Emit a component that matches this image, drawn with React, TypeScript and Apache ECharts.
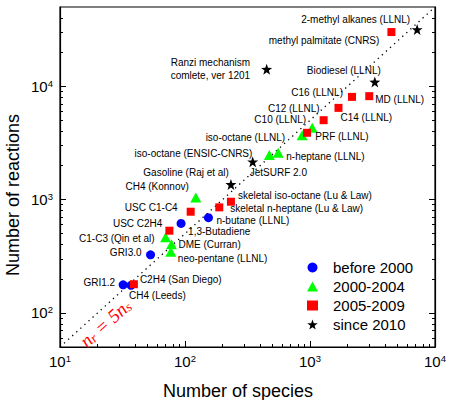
import React, { useEffect, useRef } from 'react';
import * as echarts from 'echarts';

// Mechanism sizes: number of species vs number of reactions, grouped by year
const before2000Names = ['GRI1.2', 'CH4 (Leeds)', 'GRI3.0', '1,3-Butadiene', 'n-butane (LLNL)'];
const before2000Species = [32, 37, 53, 93, 154];
const before2000Reactions = [177, 175, 325, 615, 692];

const y2000to2004Names = [
  'C1-C3 (Qin et al)', 'DME (Curran)', 'neo-pentane (LLNL)', 'CH4 (Konnov)',
  'iso-octane (ENSIC-CNRS)', 'n-heptane (LLNL)', 'iso-octane (LLNL)', 'PRF (LLNL)',
];
const y2000to2004Species = [70, 78, 77, 122, 473, 557, 865, 1042];
const y2000to2004Reactions = [464, 403, 347, 1040, 2466, 2582, 3700, 4295];

const y2005to2009Names = [
  'C2H4 (San Diego)', 'USC C2H4', 'USC C1-C4', 'skeletal n-heptane (Lu & Law)',
  'skeletal iso-octane (Lu & Law)', 'C10 (LLNL)', 'C12 (LLNL)', 'C14 (LLNL)',
  'C16 (LLNL)', 'MD (LLNL)', 'methyl palmitate (CNRS)',
];
const y2005to2009Species = [39, 75, 111, 188, 233, 947, 1285, 1690, 2167, 2978, 4477];
const y2005to2009Reactions = [179, 531, 781, 853, 957, 3883, 5013, 6440, 8050, 8170, 30060];

const since2010Names = [
  'Gasoline (Raj et al)', 'JetSURF 2.0', 'Ranzi mechanism\ncomlete, ver 1201',
  'Biodiesel (LLNL)', '2-methyl alkanes (LLNL)',
];
const since2010Species = [233, 348, 450, 3299, 7195];
const since2010Reactions = [1361, 2154, 14130, 10910, 31640];

const legendNames = ['before 2000', '2000-2004', '2005-2009', 'since 2010'];

// Axes
const speciesRange = [10, 10000];
const reactionsRange = [50, 50000];
const xMajorTicks = [10, 100, 1000, 10000];
const yMajorTicks = [100, 1000, 10000];
const reactionsPerSpecies = 5;

// 2..9 times every decade inside [lo, hi]
function minorTicks(lo: number, hi: number): number[] {
  const out: number[] = [];
  for (let d = 1; d <= 1e5; d *= 10) {
    for (let k = 2; k <= 9; k++) {
      const v = k * d;
      if (v > lo && v < hi) out.push(v);
    }
  }
  return out;
}

// Label anchor relative to each marker: [text alignment, dx, dy]
const labelPlacement: Record<string, ['left' | 'right', number, number]> = {
  'GRI1.2': ['right', -8, -2],
  'CH4 (Leeds)': ['left', -2, 10],
  'C2H4 (San Diego)': ['left', 6, -5],
  'GRI3.0': ['right', -9, -2],
  'neo-pentane (LLNL)': ['left', 7, 7],
  'DME (Curran)': ['left', 7, 0],
  'C1-C3 (Qin et al)': ['right', -11, 1],
  'USC C2H4': ['right', -7, -7],
  '1,3-Butadiene': ['left', 7, 8],
  'USC C1-C4': ['right', -13, -4],
  'n-butane (LLNL)': ['left', 8, 3],
  'CH4 (Konnov)': ['right', -7, -11],
  'skeletal n-heptane (Lu & Law)': ['left', 11, 1],
  'skeletal iso-octane (Lu & Law)': ['left', 7, -6],
  'Gasoline (Raj et al)': ['right', -2, -12],
  'JetSURF 2.0': ['left', -3, 11],
  'iso-octane (ENSIC-CNRS)': ['right', -17, -2],
  'n-heptane (LLNL)': ['left', 8, 4],
  'iso-octane (LLNL)': ['right', -17, 2],
  'PRF (LLNL)': ['left', 3, 9],
  'C10 (LLNL)': ['right', -1, -13],
  'C12 (LLNL)': ['right', -4, -12],
  'C14 (LLNL)': ['left', 2, 10],
  'C16 (LLNL)': ['right', -9, -4],
  'MD (LLNL)': ['left', 6, 3],
  'Biodiesel (LLNL)': ['right', 6, -11],
  'methyl palmitate (CNRS)': ['right', -12, 8],
  '2-methyl alkanes (LLNL)': ['right', -7, -10],
  'Ranzi mechanism\ncomlete, ver 1201': ['left', -96, 0],
};

const SANS = '"Liberation Sans", Arial, Helvetica, sans-serif';
const STAR = 'path://M0,-10 L2.35,-3.24 L9.51,-3.09 L3.8,1.24 L5.88,8.09 L0,4 L-5.88,8.09 L-3.8,1.24 L-9.51,-3.09 L-2.35,-3.24 Z';

function points(names: string[], xs: number[], ys: number[]) {
  return names.map((name, i) => {
    const p = labelPlacement[name] || ['left', 6, 0];
    const multiLine = name.indexOf('\n') >= 0;
    return {
      name,
      value: [xs[i], ys[i]],
      label: {
        show: true,
        position: 'inside',
        align: p[0],
        verticalAlign: 'middle',
        offset: [p[1], p[2]],
        formatter: '{b}',
        color: '#000',
        fontSize: 10,
        lineHeight: multiLine ? 13.5 : 11,
        fontFamily: SANS,
        textBorderWidth: 0,
      },
    };
  });
}

function powerLabel(v: number): string {
  const lg = Math.log10(v);
  const e = Math.round(lg);
  if (Math.abs(lg - e) > 1e-6) return '';
  return `{b|10}{s|${e}}`;
}

const tickRich = {
  b: { fontSize: 15, fontFamily: SANS, color: '#000', lineHeight: 16 },
  s: { fontSize: 9.5, fontFamily: SANS, color: '#000', lineHeight: 8, verticalAlign: 'top' },
};

function logAxis(kind: 'x' | 'y', position: string, range: number[], ticks: number[], opts: any) {
  return {
    type: 'log',
    logBase: 10,
    min: range[0],
    max: range[1],
    position,
    axisLine: { show: !!opts.line, onZero: false, lineStyle: { color: '#000', width: 1.2 } },
    axisTick: { show: true, inside: true, length: opts.tickLen, customValues: ticks, lineStyle: { color: '#000', width: 1 } },
    axisLabel: opts.labels
      ? { show: true, customValues: ticks, formatter: powerLabel, rich: tickRich, margin: kind === 'x' ? 6 : 7 }
      : { show: false },
    splitLine: { show: false },
    minorTick: { show: false },
  };
}

const xMinor = minorTicks(speciesRange[0], speciesRange[1]);
const yMinor = minorTicks(reactionsRange[0], reactionsRange[1]);

const option: any = {
  animation: false,
  backgroundColor: '#fff',
  grid: { left: 60, right: 11, top: 7, bottom: 53, show: true, borderColor: '#000', borderWidth: 1.2, backgroundColor: 'transparent' },
  xAxis: [
    logAxis('x', 'bottom', speciesRange, xMajorTicks, { line: true, tickLen: 6, labels: true }),
    logAxis('x', 'bottom', speciesRange, xMinor, { line: false, tickLen: 3, labels: false }),
  ],
  yAxis: [
    logAxis('y', 'left', reactionsRange, yMajorTicks, { line: true, tickLen: 6, labels: true }),
    logAxis('y', 'left', reactionsRange, yMinor, { line: false, tickLen: 3, labels: false }),
    logAxis('y', 'right', reactionsRange, yMajorTicks, { line: true, tickLen: 6, labels: false }),
    logAxis('y', 'right', reactionsRange, yMinor, { line: false, tickLen: 3, labels: false }),
  ],
  legend: {
    data: legendNames,
    orient: 'vertical',
    left: 302,
    top: 255,
    itemWidth: 11,
    itemHeight: 10,
    itemGap: 4,
    textStyle: { fontSize: 15, fontFamily: SANS, color: '#000', padding: [0, 0, 0, 10] },
  },
  series: [
    {
      name: 'n_r = 5 n_s',
      type: 'line',
      data: speciesRange.map((s) => [s, s * reactionsPerSpecies]),
      showSymbol: false,
      symbol: 'none',
      silent: true,
      z: 1,
      lineStyle: { color: '#000', width: 1.3, type: [1.3, 4.2] },
    },
    {
      name: legendNames[0],
      type: 'scatter',
      symbol: 'circle',
      symbolSize: 9,
      itemStyle: { color: '#0000ff', opacity: 1 },
      z: 3,
      data: points(before2000Names, before2000Species, before2000Reactions),
    },
    {
      name: legendNames[1],
      type: 'scatter',
      symbol: 'triangle',
      symbolSize: [11, 10],
      itemStyle: { color: '#00ff00', opacity: 1 },
      z: 3,
      data: points(y2000to2004Names, y2000to2004Species, y2000to2004Reactions),
    },
    {
      name: legendNames[2],
      type: 'scatter',
      symbol: 'rect',
      symbolSize: 8,
      itemStyle: { color: '#ff0000', opacity: 1 },
      z: 3,
      data: points(y2005to2009Names, y2005to2009Species, y2005to2009Reactions),
    },
    {
      name: legendNames[3],
      type: 'scatter',
      symbol: STAR,
      symbolSize: 11,
      itemStyle: { color: '#000', opacity: 1 },
      z: 3,
      data: points(since2010Names, since2010Species, since2010Reactions),
    },
  ],
};

// Start of the equation written below the dotted line (data coordinates)
const equationAnchor = [15.2, 53.5];

export default function App() {
  const ref = useRef<HTMLDivElement>(null);

  useEffect(() => {
    if (!ref.current) return;
    const chart = echarts.init(ref.current, null, { renderer: 'svg' });
    chart.setOption(option);

    const [ex, ey] = chart.convertToPixel({ gridIndex: 0 }, equationAnchor) as number[];
    const italic = { fontFamily: '"Liberation Serif", "Times New Roman", serif', fontStyle: 'italic', fill: '#ff0000' };
    chart.setOption({
      graphic: [
        {
          type: 'text',
          x: ex,
          y: ey,
          rotation: (42 * Math.PI) / 180,
          z: 10,
          style: {
            text: '{m|n}{sub|r}{m| = 5n}{sub|s}',
            align: 'left',
            verticalAlign: 'middle',
            rich: {
              m: { ...italic, fontSize: 19, lineHeight: 19, verticalAlign: 'top' },
              sub: { ...italic, fontSize: 13, lineHeight: 13, verticalAlign: 'bottom', padding: [8, 0, 0, 0] },
            },
          },
        },
        {
          type: 'text',
          x: 12.5,
          y: 195,
          rotation: Math.PI / 2,
          style: {
            text: 'Number of reactions',
            fontSize: 18,
            fontFamily: SANS,
            fill: '#000',
            align: 'center',
            verticalAlign: 'middle',
          },
        },
        {
          type: 'text',
          x: 238,
          y: 391,
          style: {
            text: 'Number of species',
            fontSize: 18,
            fontFamily: SANS,
            fill: '#000',
            align: 'center',
            verticalAlign: 'middle',
          },
        },
      ],
    });

    return () => chart.dispose();
  }, []);

  return (
    <div
      ref={ref}
      style={{ position: 'fixed', left: 0, top: 0, width: 449, height: 400, background: '#fff' }}
    />
  );
}
